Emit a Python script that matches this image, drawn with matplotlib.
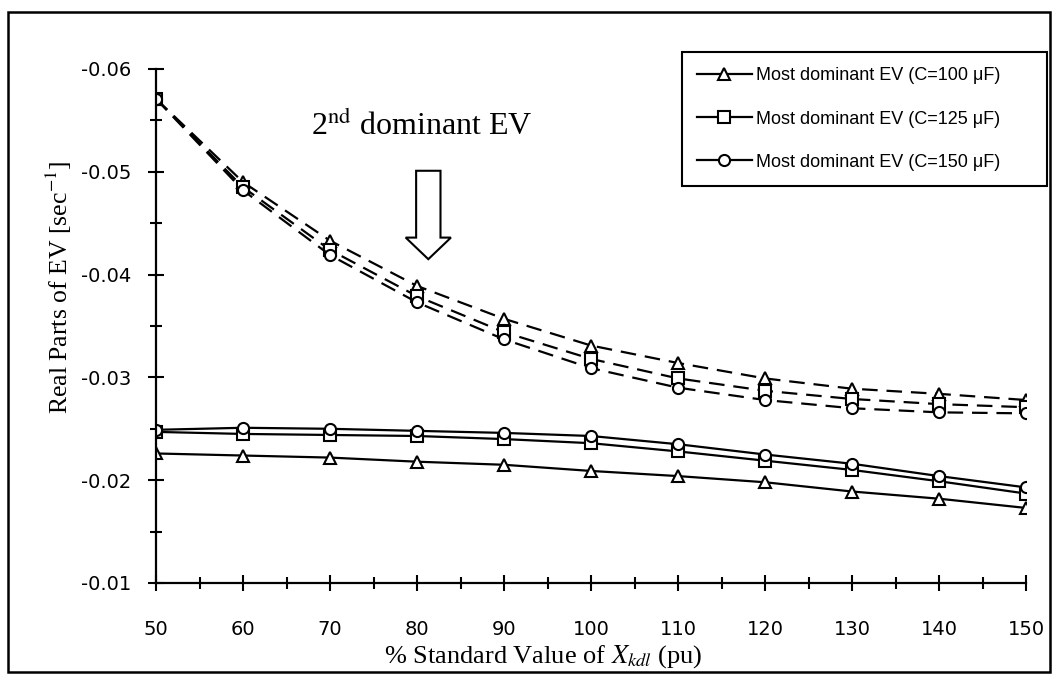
import matplotlib
matplotlib.use("Agg")
import matplotlib.pyplot as plt
from matplotlib.patches import FancyArrow, Rectangle
from matplotlib.ticker import MultipleLocator, FormatStrFormatter

plt.rcParams['axes.unicode_minus'] = False
plt.rcParams['mathtext.fontset'] = 'stix'

# data
xkd = [50, 60, 70, 80, 90, 100, 110, 120, 130, 140, 150]

# most dominant EV (solid)
dom_100 = [-0.0226, -0.0224, -0.0222, -0.0218, -0.0215, -0.0209, -0.0204, -0.0198, -0.0189, -0.0182, -0.0173]
dom_125 = [-0.0247, -0.0245, -0.0244, -0.0243, -0.0240, -0.0236, -0.0228, -0.0219, -0.0210, -0.0199, -0.0187]
dom_150 = [-0.0249, -0.0251, -0.0250, -0.0248, -0.0246, -0.0243, -0.0235, -0.0225, -0.0216, -0.0204, -0.0193]

# 2nd dominant EV (dashed)
sec_100 = [-0.0571, -0.0490, -0.0433, -0.0389, -0.0357, -0.0331, -0.0314, -0.0299, -0.0289, -0.0284, -0.0278]
sec_125 = [-0.0571, -0.0485, -0.0424, -0.0379, -0.0344, -0.0318, -0.0299, -0.0287, -0.0279, -0.0274, -0.0271]
sec_150 = [-0.0571, -0.0482, -0.0419, -0.0373, -0.0337, -0.0309, -0.0290, -0.0278, -0.0270, -0.0266, -0.0265]

labels = ["Most dominant EV (C=100 μF)", "Most dominant EV (C=125 μF)", "Most dominant EV (C=150 μF)"]
markers = ["^", "s", "o"]

fig = plt.figure(figsize=(10.57, 6.78), dpi=100)
ax = fig.add_axes([156/1057, 1-583/678, (1026-156)/1057, (583-69)/678])

mk = dict(color="black", markerfacecolor="white", markeredgecolor="black", markersize=8, markeredgewidth=1.5)

for ys, m, lab in zip([dom_100, dom_125, dom_150], markers, labels):
    ax.plot(xkd, ys, marker=m, linewidth=1.6, label=lab, **mk)

for ys, m in zip([sec_100, sec_125, sec_150], markers):
    ax.plot(xkd, ys, marker=m, linewidth=1.6, linestyle=(0, (7, 4)), **mk)

ax.set_xlim(50, 150)
ax.set_ylim(-0.01, -0.06)

ax.spines['top'].set_visible(False)
ax.spines['right'].set_visible(False)
ax.spines['left'].set_linewidth(1.6)
ax.spines['bottom'].set_linewidth(1.6)

ax.xaxis.set_major_locator(MultipleLocator(10))
ax.xaxis.set_minor_locator(MultipleLocator(5))
ax.yaxis.set_major_locator(MultipleLocator(0.01))
ax.yaxis.set_minor_locator(MultipleLocator(0.005))
ax.yaxis.set_major_formatter(FormatStrFormatter('%.2f'))

ax.tick_params(which='major', direction='inout', length=11, width=1.5)
ax.tick_params(which='minor', direction='inout', length=8, width=1.5)
ax.tick_params(axis='x', which='major', pad=21, labelsize=14)
ax.tick_params(axis='y', which='major', pad=12, labelsize=14)

ax.set_xlabel("% Standard Value of $\\mathit{X_{kdl}}$ (pu)", family="Liberation Serif", fontsize=19, labelpad=0)
ax.xaxis.set_label_coords((543-156)/(1026-156), -0.117)
ax.set_ylabel("Real Parts of EV [sec$^{\\mathrm{-1}}$]", family="Liberation Serif", fontsize=18.5)
ax.yaxis.set_label_coords(-(156-74)/(1026-156), 0.575)

# annotation: hollow block arrow and text
ax.text(80.5, -0.0544, "2$^{\\mathrm{nd}}$ dominant EV", family="Liberation Serif",
        fontsize=23, ha="center", va="center")
ax.add_patch(FancyArrow(81.3, -0.0501, 0, 0.0086, width=2.8, head_width=5.2,
                        head_length=0.0021, length_includes_head=True,
                        facecolor="white", edgecolor="black", linewidth=1.5))

leg = ax.legend(loc="upper left", bbox_to_anchor=(682/1057, 1-182/678, (1047-682)/1057, 130/678),
                bbox_transform=fig.transFigure, mode="expand", borderaxespad=0,
                prop={"family": "Liberation Sans", "size": 13},
                numpoints=1, handlelength=3.0, handletextpad=0.25, labelspacing=1.45,
                borderpad=0.85, fancybox=False, framealpha=1)
leg.get_frame().set_edgecolor("black")
leg.get_frame().set_linewidth(1.5)

# outer border of the picture
fig.patches.append(Rectangle((8/1057, 1-672/678), (1050-8)/1057, (672-12)/678,
                             transform=fig.transFigure, fill=False, edgecolor="black", linewidth=1.8))

fig.savefig("out.png", dpi=100)
